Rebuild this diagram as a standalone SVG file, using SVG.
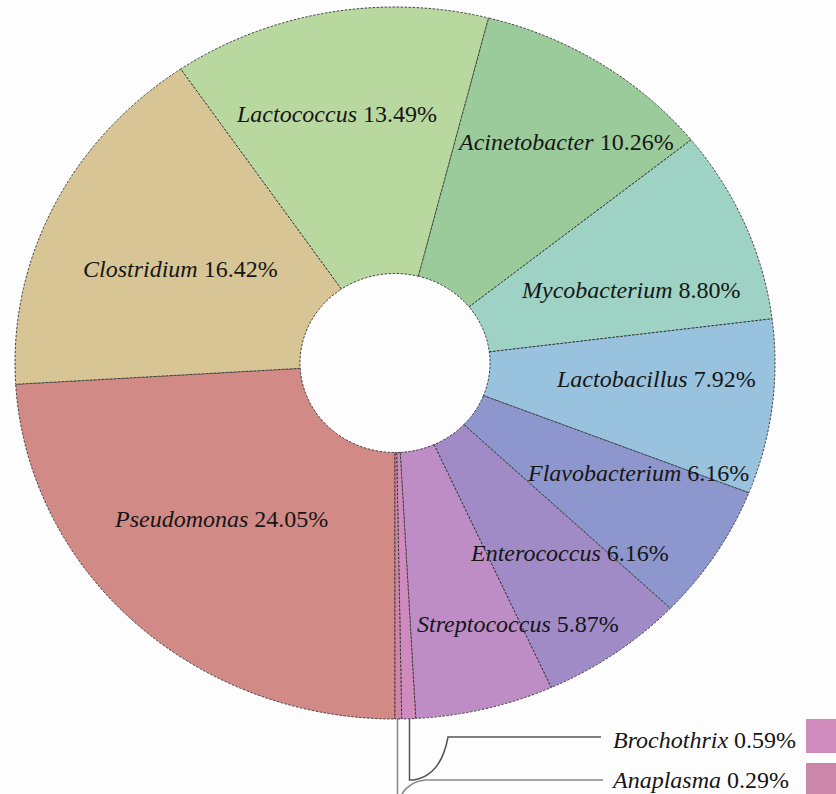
<svg xmlns="http://www.w3.org/2000/svg" width="836" height="794" viewBox="0 0 836 794">
<style>
.s{stroke:#2f2f2f;stroke-width:0.9;stroke-dasharray:2.5 1.5}
.t{font-family:"Liberation Serif","Times New Roman",serif;font-size:24px;fill:#161616}
.i{font-style:italic}
.ln{fill:none;stroke-width:1.5}
</style>
<rect width="836" height="794" fill="#fdfdfd"/>
<g id="pseudomonas">
<path class="s" fill="#D28A87" d="M395,452.5 L395,719 A380,356 0 0 1 15.68,384.24 L300.17,368.34 A95,89.5 0 0 0 395,452.5 Z"/>
<text class="t" x="115" y="527"><tspan class="i">Pseudomonas</tspan> 24.05%</text>
</g>
<g id="clostridium">
<path class="s" fill="#D7C596" d="M300.17,368.34 L15.68,384.24 A380,356 0 0 1 180.81,68.94 L341.45,289.07 A95,89.5 0 0 0 300.17,368.34 Z"/>
<text class="t" x="83" y="277"><tspan class="i">Clostridium</tspan> 16.42%</text>
</g>
<g id="lactococcus">
<path class="s" fill="#B9D8A0" d="M341.45,289.07 L180.81,68.94 A380,356 0 0 1 488.58,17.96 L418.39,276.26 A95,89.5 0 0 0 341.45,289.07 Z"/>
<text class="t" x="237" y="122"><tspan class="i">Lactococcus</tspan> 13.49%</text>
</g>
<g id="acinetobacter">
<path class="s" fill="#9BCB9B" d="M418.39,276.26 L488.58,17.96 A380,356 0 0 1 691.12,139.89 L469.03,306.91 A95,89.5 0 0 0 418.39,276.26 Z"/>
<text class="t" x="459" y="150"><tspan class="i">Acinetobacter</tspan> 10.26%</text>
</g>
<g id="mycobacterium">
<path class="s" fill="#9ED2C4" d="M469.03,306.91 L691.12,139.89 A380,356 0 0 1 772.06,318.82 L489.27,351.89 A95,89.5 0 0 0 469.03,306.91 Z"/>
<text class="t" x="522" y="298"><tspan class="i">Mycobacterium</tspan> 8.80%</text>
</g>
<g id="lactobacillus">
<path class="s" fill="#98C2DE" d="M489.27,351.89 L772.06,318.82 A380,356 0 0 1 748.84,492.8 L483.46,395.63 A95,89.5 0 0 0 489.27,351.89 Z"/>
<text class="t" x="557" y="387"><tspan class="i">Lactobacillus</tspan> 7.92%</text>
</g>
<g id="flavobacterium">
<path class="s" fill="#8E96CE" d="M483.46,395.63 L748.84,492.8 A380,356 0 0 1 670.37,608.33 L463.84,424.68 A95,89.5 0 0 0 483.46,395.63 Z"/>
</g>
<g id="enterococcus">
<path class="s" fill="#A08BC6" d="M463.84,424.68 L670.37,608.33 A380,356 0 0 1 551.16,687.55 L434.04,444.59 A95,89.5 0 0 0 463.84,424.68 Z"/>
</g>
<g id="streptococcus">
<path class="s" fill="#BE8DC6" d="M434.04,444.59 L551.16,687.55 A380,356 0 0 1 415.76,718.47 L400.19,452.37 A95,89.5 0 0 0 434.04,444.59 Z"/>
</g>
<g id="brochothrix">
<path class="s" fill="#D08ABE" d="M400.19,452.37 L415.76,718.47 A380,356 0 0 1 401.69,718.95 L396.67,452.49 A95,89.5 0 0 0 400.19,452.37 Z"/>
<rect x="806" y="719" width="40" height="34" fill="#CE8BBC"/>
<text class="t" x="613" y="748"><tspan class="i">Brochothrix</tspan> 0.59%</text>
</g>
<g id="anaplasma">
<path class="s" fill="#CC86A8" d="M396.67,452.49 L401.69,718.95 A380,356 0 0 1 395,719 L395,452.5 A95,89.5 0 0 0 396.67,452.49 Z"/>
<rect x="806" y="763" width="40" height="40" fill="#CC86A8"/>
<text class="t" x="613" y="788"><tspan class="i">Anaplasma</tspan> 0.29%</text>
</g>
<g id="labels-late">
<text class="t" x="528" y="481"><tspan class="i">Flavobacterium</tspan> 6.16%</text>
<text class="t" x="471" y="561"><tspan class="i">Enterococcus</tspan> 6.16%</text>
<text class="t" x="417" y="632"><tspan class="i">Streptococcus</tspan> 5.87%</text>
</g>
<g id="connectors">
<path class="ln" stroke="#555" d="M409.5,719 L409.5,780 L413,780 Q441,776 448,737 L601,737"/>
<path class="ln" stroke="#888" d="M397.5,719 L397.5,806 C400,792 410,781 426,780 L603,780"/>
</g>
</svg>
